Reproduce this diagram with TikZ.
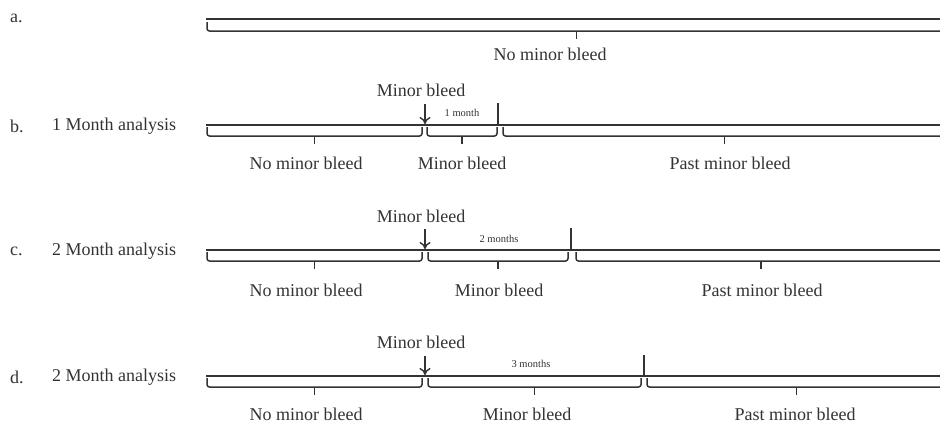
\documentclass[tikz,border=0pt]{standalone}
\usepackage{fontspec}
\setmainfont{Liberation Serif}
\usetikzlibrary{arrows.meta}
\definecolor{ink}{HTML}{333333}
\tikzset{
  every node/.style={text=ink, inner sep=0pt},
  big/.style={font=\fontsize{18}{20}\selectfont},
  small/.style={font=\fontsize{10.5}{12}\selectfont},
  axis/.style={draw=ink, line width=1.6pt},
  brace/.style={draw=ink, line width=1.5pt, rounded corners=2.5pt},
  marker/.style={draw=ink, line width=1.6pt},
  bleedarrow/.style={draw=ink, line width=1.4pt, -{To[length=7pt,width=11pt]}},
}
% bracket from x1 to x2 hanging under a time line at height y, with a centre tick
\newcommand{\timebrace}[4]{%
  \path[brace] (#1,#3+2) -- (#1,#3+11) -- (#2,#3+11) -- (#2,#3+2);
  \path[brace] ({(#1+#2)/2},#3+11) -- ({(#1+#2)/2},#3+19);
  \coordinate (#4) at ({(#1+#2)/2},#3+19);
}
\begin{document}
\begin{tikzpicture}[x=1pt,y=-1pt]
\useasboundingbox (0,0) rectangle (940,424);

% ---- a. ----
\node[big, anchor=west] (la) at (10,18) {a.};
\coordinate (a0) at (206,19);
\coordinate (a1) at (942,19);
\path[axis] (a0) -- (a1);
\timebrace{207}{946}{20}{ta}
\node[big] (ta1) at (550,54) {No minor bleed};

% ---- b. ----
\node[big, anchor=west] (lb) at (10,126) {b.};
\node[big, anchor=west] (nb) at (52,126) {1 Month analysis};
\coordinate (b0) at (206,125);
\coordinate (b1) at (942,125);
\path[axis] (b0) -- (b1);
\node[big] (mb) at (421,90) {Minor bleed};
\coordinate (barrowtop) at (425,104);
\coordinate (barrowtip) at (425,124);
\path[bleedarrow] (barrowtop) -- (barrowtip);
\coordinate (bendtop) at (498,103);
\coordinate (bend) at (498,125);
\path[marker] (bendtop) -- (bend);
\node[small] (bm) at (462,113) {1 month};
\timebrace{207}{422}{125}{tb1}
\timebrace{427}{497}{125}{tb2}
\timebrace{503}{946}{125}{tb3}
\node[big] (b1t) at (306,163) {No minor bleed};
\node[big] (b2t) at (462,163) {Minor bleed};
\node[big] (b3t) at (730,163) {Past minor bleed};

% ---- c. ----
\node[big, anchor=west] (lc) at (10,251) {c.};
\node[big, anchor=west] (nc) at (52,251) {2 Month analysis};
\coordinate (c0) at (206,250);
\coordinate (c1) at (942,250);
\path[axis] (c0) -- (c1);
\node[big] (mc) at (421,216) {Minor bleed};
\coordinate (carrowtop) at (425,229);
\coordinate (carrowtip) at (425,249);
\path[bleedarrow] (carrowtop) -- (carrowtip);
\coordinate (cendtop) at (571,228);
\coordinate (cend) at (571,250);
\path[marker] (cendtop) -- (cend);
\node[small] (cm) at (499,239) {2 months};
\timebrace{207}{422}{250}{tc1}
\timebrace{428}{568}{250}{tc2}
\timebrace{576}{946}{250}{tc3}
\node[big] (c1t) at (306,290) {No minor bleed};
\node[big] (c2t) at (499,290) {Minor bleed};
\node[big] (c3t) at (762,290) {Past minor bleed};

% ---- d. ----
\node[big, anchor=west] (ld) at (10,377) {d.};
\node[big, anchor=west] (nd) at (52,377) {2 Month analysis};
\coordinate (d0) at (206,376);
\coordinate (d1) at (942,376);
\path[axis] (d0) -- (d1);
\node[big] (md) at (421,342) {Minor bleed};
\coordinate (darrowtop) at (425,356);
\coordinate (darrowtip) at (425,375);
\path[bleedarrow] (darrowtop) -- (darrowtip);
\coordinate (dendtop) at (644,355);
\coordinate (dend) at (644,376);
\path[marker] (dendtop) -- (dend);
\node[small] (dm) at (531,364) {3 months};
\timebrace{207}{422}{376}{td1}
\timebrace{428}{641}{376}{td2}
\timebrace{647}{946}{376}{td3}
\node[big] (d1t) at (306,414) {No minor bleed};
\node[big] (d2t) at (527,414) {Minor bleed};
\node[big] (d3t) at (795,414) {Past minor bleed};
\end{tikzpicture}
\end{document}
